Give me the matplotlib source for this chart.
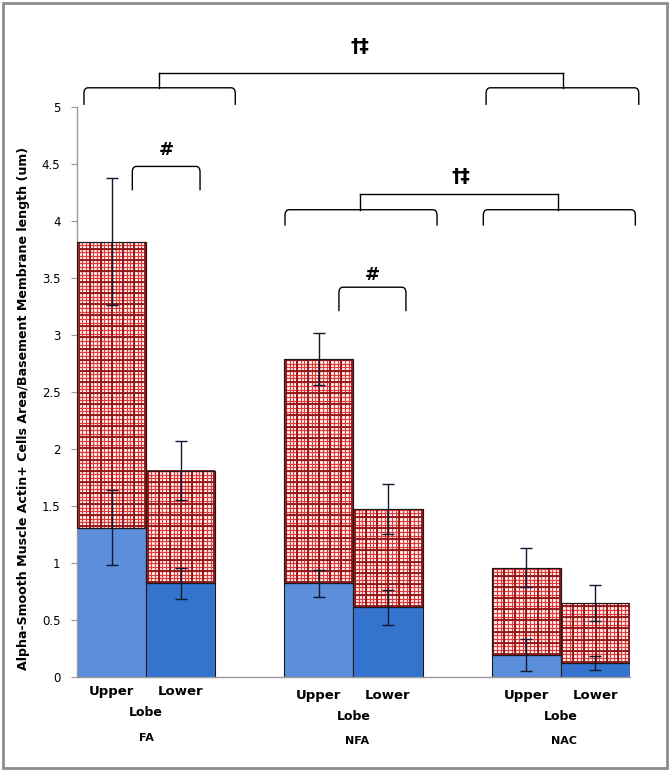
import matplotlib
import numpy as np

matplotlib.use("Agg", force=True)
import matplotlib.pyplot as plt
from matplotlib.collections import LineCollection
from matplotlib.patches import PathPatch, Rectangle
from matplotlib.path import Path


groups = ["FA", "NFA", "NAC"]
lobes = ["Upper", "Lower"]
# lower (blue) segment and its error
solid_vals = [1.31, 0.82, 0.82, 0.61, 0.19, 0.12]
solid_err = [0.33, 0.14, 0.12, 0.15, 0.14, 0.06]
# total stacked height (top of red grid segment) and its error
total_vals = [3.82, 1.81, 2.79, 1.47, 0.96, 0.65]
total_err = [0.56, 0.26, 0.23, 0.22, 0.17, 0.16]
yticks = [0, 0.5, 1, 1.5, 2, 2.5, 3, 3.5, 4, 4.5, 5]

BLUE_UPPER = "#5b8edb"
BLUE_LOWER = "#3474cf"
FINE_RED = "#e03a3a"
COARSE_RED = "#8e1414"

fig = plt.figure(figsize=(6.7, 7.71), dpi=100)
ax = fig.add_axes([0.115, 0.122, 0.825, 0.739])
ax.set_xlim(-1, 7)
ax.set_ylim(0, 5)

group_centers = np.arange(len(groups)) * 3.0
x = np.array([c + off for c in group_centers for off in (-0.5, 0.5)])
solid = np.array(solid_vals)
total = np.array(total_vals)
blue_colors = [BLUE_UPPER, BLUE_LOWER] * len(groups)

ax.bar(x, solid, width=1.0, color=blue_colors, edgecolor="#1a1a1a", linewidth=0.8, zorder=2)
red_bars = ax.bar(x, total - solid, bottom=solid, width=1.0, facecolor="white",
                  edgecolor="#1a1a1a", linewidth=0.8, zorder=2)

# grid fill of the upper segment: fine red grid with a darker one every third line
px_x = 8.0 / (0.825 * 670)   # data units per pixel, x
px_y = 5.0 / (0.739 * 771)   # data units per pixel, y
step = 3.7
for bar in red_bars:
    x0, y0 = bar.get_x(), bar.get_y()
    x1, y1 = x0 + bar.get_width(), y0 + bar.get_height()
    xs = np.arange(x0 + 1.5 * px_x, x1, step * px_x)
    ys = np.arange(y0 + 1.5 * px_y, y1, step * px_y)
    for k, color, lw in ((1, FINE_RED, 0.9), (3, COARSE_RED, 1.3)):
        segs = [[(xx, y0), (xx, y1)] for i, xx in enumerate(xs) if i % 3 == 0 or k == 1]
        segs += [[(x0, yy), (x1, yy)] for i, yy in enumerate(ys) if i % 3 == 0 or k == 1]
        lc = LineCollection(segs, colors=color, linewidths=lw, zorder=2.5)
        lc.set_clip_path(bar)
        ax.add_collection(lc)
    ax.add_patch(Rectangle((x0, y0), x1 - x0, y1 - y0, fill=False,
                           edgecolor="#1a1a1a", linewidth=0.8, zorder=3))

ax.errorbar(x, solid, yerr=solid_err, fmt="none", ecolor="#101830",
            elinewidth=1.0, capsize=4, capthick=1.0, zorder=4)
ax.errorbar(x, total, yerr=total_err, fmt="none", ecolor="#101830",
            elinewidth=1.0, capsize=4, capthick=1.0, zorder=4)

ax.set_yticks(yticks)
ax.set_yticklabels([f"{t:g}" for t in yticks], fontsize=8.5)
ax.set_xticks([])
for side in ("top", "right"):
    ax.spines[side].set_visible(False)
for side in ("left", "bottom"):
    ax.spines[side].set_color("#9a9a9a")
    ax.spines[side].set_linewidth(1.0)
ax.tick_params(axis="y", length=4, color="#9a9a9a", pad=8)
ax.set_ylabel("Alpha-Smooth Muscle Actin+ Cells Area/Basement Membrane length (um)",
              fontsize=9.1, fontweight="bold")
ax.yaxis.set_label_coords(-0.085, 0.472)

# category labels under the axis
xt = ax.get_xaxis_transform()
for i, g in enumerate(groups):
    c = group_centers[i]
    dy = 0.0 if i == 0 else -0.006
    ax.text(c - 0.5, -0.026 + dy, lobes[0], transform=xt, ha="center", va="center",
            fontsize=9.5, fontweight="bold")
    ax.text(c + 0.5, -0.026 + dy, lobes[1], transform=xt, ha="center", va="center",
            fontsize=9.5, fontweight="bold")
    ax.text(c, -0.063 + dy, "Lobe", transform=xt, ha="center", va="center",
            fontsize=9, fontweight="bold")
    ax.text(c + (0.05 if i else 0), -0.107 + dy, g, transform=xt, ha="center", va="center",
            fontsize=8, fontweight="bold")


def brace(x0, x1, y_line, y_end, mid=None, y_top=None):
    rx, ry = 0.06, 0.05
    verts = [(x0, y_end), (x0, y_line - ry), (x0, y_line), (x0 + rx, y_line),
             (x1 - rx, y_line), (x1, y_line), (x1, y_line - ry), (x1, y_end)]
    codes = [Path.MOVETO, Path.LINETO, Path.CURVE3, Path.CURVE3,
             Path.LINETO, Path.CURVE3, Path.CURVE3, Path.LINETO]
    ax.add_patch(PathPatch(Path(verts, codes), fill=False, edgecolor="black",
                           lw=1.0, clip_on=False, zorder=5))
    if mid is not None:
        ax.plot([mid, mid], [y_line, y_top], color="black", lw=1.0,
                clip_on=False, zorder=5)


# top comparison: FA vs NAC
brace(-0.90, 1.29, 5.17, 5.02, mid=0.19, y_top=5.30)
brace(4.92, 7.13, 5.17, 5.02, mid=6.03, y_top=5.30)
ax.plot([0.19, 6.03], [5.30, 5.30], color="black", lw=1.0, clip_on=False)
ax.text(3.1, 5.53, "\u2020\u2021", ha="center", va="center", fontsize=13.5,
        fontweight="bold", clip_on=False)

# NFA vs NAC
brace(2.01, 4.21, 4.10, 3.96, mid=3.10, y_top=4.24)
brace(4.88, 7.08, 4.10, 3.96, mid=5.96, y_top=4.24)
ax.plot([3.10, 5.96], [4.24, 4.24], color="black", lw=1.0, clip_on=False)
ax.text(4.55, 4.39, "\u2020\u2021", ha="center", va="center", fontsize=13.5,
        fontweight="bold", clip_on=False)

# upper vs lower lobe within group
brace(-0.20, 0.78, 4.48, 4.27)
ax.text(0.29, 4.62, "#", ha="center", va="center", fontsize=13, fontweight="bold")
brace(2.79, 3.76, 3.42, 3.21)
ax.text(3.27, 3.53, "#", ha="center", va="center", fontsize=13, fontweight="bold")

fig.patches.append(Rectangle((0.004, 0.004), 0.992, 0.992, transform=fig.transFigure,
                             fill=False, edgecolor="#8c8c8c", linewidth=2.0))

fig.savefig("out.png", dpi=100)
